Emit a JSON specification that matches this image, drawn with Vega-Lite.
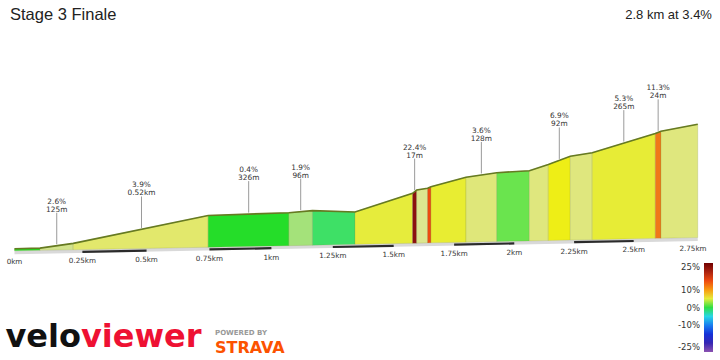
{
  "$schema": "https://vega.github.io/schema/vega-lite/v6.json",
  "width": 720,
  "height": 360,
  "autosize": {"type": "none"},
  "padding": 0,
  "background": "white",
  "config": {"view": {"stroke": null}, "axis": {"disable": true}},
  "datasets": {
    "profile": [
      {"seg": 1, "d": 0, "ele": 1.67, "floor": 0, "grade": 0.5},
      {"seg": 1, "d": 0.09, "ele": 2.25, "floor": 0.36, "grade": 0.5},
      {"seg": 2, "d": 0.09, "ele": 2.25, "floor": 0.36, "grade": 2.6},
      {"seg": 2, "d": 0.215, "ele": 6.17, "floor": 0.86, "grade": 2.6},
      {"seg": 3, "d": 0.215, "ele": 6.17, "floor": 0.86, "grade": 3.9},
      {"seg": 3, "d": 0.745, "ele": 29.42, "floor": 2.98, "grade": 3.9},
      {"seg": 4, "d": 0.745, "ele": 29.42, "floor": 2.98, "grade": 0.4},
      {"seg": 4, "d": 1.071, "ele": 31.75, "floor": 4.28, "grade": 0.4},
      {"seg": 5, "d": 1.071, "ele": 31.75, "floor": 4.28, "grade": 1.9},
      {"seg": 5, "d": 1.167, "ele": 33.5, "floor": 4.67, "grade": 1.9},
      {"seg": 6, "d": 1.167, "ele": 33.5, "floor": 4.67, "grade": -0.5},
      {"seg": 6, "d": 1.341, "ele": 32.33, "floor": 5.36, "grade": -0.5},
      {"seg": 7, "d": 1.341, "ele": 32.33, "floor": 5.36, "grade": 5.0},
      {"seg": 7, "d": 1.578, "ele": 47.92, "floor": 6.31, "grade": 5.0},
      {"seg": 8, "d": 1.578, "ele": 47.92, "floor": 6.31, "grade": 22.4},
      {"seg": 8, "d": 1.595, "ele": 50.67, "floor": 6.38, "grade": 22.4},
      {"seg": 9, "d": 1.595, "ele": 50.67, "floor": 6.38, "grade": 3.0},
      {"seg": 9, "d": 1.64, "ele": 52.08, "floor": 6.56, "grade": 3.0},
      {"seg": 10, "d": 1.64, "ele": 52.08, "floor": 6.56, "grade": 15},
      {"seg": 10, "d": 1.654, "ele": 53.42, "floor": 6.62, "grade": 15},
      {"seg": 11, "d": 1.654, "ele": 53.42, "floor": 6.62, "grade": 5.5},
      {"seg": 11, "d": 1.799, "ele": 61.25, "floor": 7.2, "grade": 5.5},
      {"seg": 12, "d": 1.799, "ele": 61.25, "floor": 7.2, "grade": 3.6},
      {"seg": 12, "d": 1.927, "ele": 65.08, "floor": 7.71, "grade": 3.6},
      {"seg": 13, "d": 1.927, "ele": 65.08, "floor": 7.71, "grade": 1.2},
      {"seg": 13, "d": 2.063, "ele": 66.75, "floor": 8.25, "grade": 1.2},
      {"seg": 14, "d": 2.063, "ele": 66.75, "floor": 8.25, "grade": 3.5},
      {"seg": 14, "d": 2.142, "ele": 71.9, "floor": 8.57, "grade": 3.5},
      {"seg": 15, "d": 2.142, "ele": 71.9, "floor": 8.57, "grade": 6.9},
      {"seg": 15, "d": 2.234, "ele": 78.75, "floor": 8.94, "grade": 6.9},
      {"seg": 16, "d": 2.234, "ele": 78.75, "floor": 8.94, "grade": 3.5},
      {"seg": 16, "d": 2.326, "ele": 81.75, "floor": 9.3, "grade": 3.5},
      {"seg": 17, "d": 2.326, "ele": 81.75, "floor": 9.3, "grade": 5.3},
      {"seg": 17, "d": 2.591, "ele": 97.75, "floor": 10.36, "grade": 5.3},
      {"seg": 18, "d": 2.591, "ele": 97.75, "floor": 10.36, "grade": 11.3},
      {"seg": 18, "d": 2.615, "ele": 99.67, "floor": 10.46, "grade": 11.3},
      {"seg": 19, "d": 2.615, "ele": 99.67, "floor": 10.46, "grade": 3.5},
      {"seg": 19, "d": 2.77, "ele": 105.42, "floor": 11.08, "grade": 3.5}
    ],
    "floorline": [
      {"d": 0, "floor": 0},
      {"d": 2.77, "floor": 11.08}
    ],
    "ticks": [
      {"d": 0, "floor": 0, "label": "0km"},
      {"d": 0.25, "floor": 1, "label": "0.25km"},
      {"d": 0.5, "floor": 2, "label": "0.5km"},
      {"d": 0.75, "floor": 3, "label": "0.75km"},
      {"d": 1, "floor": 4, "label": "1km"},
      {"d": 1.25, "floor": 5, "label": "1.25km"},
      {"d": 1.5, "floor": 6, "label": "1.5km"},
      {"d": 1.75, "floor": 7, "label": "1.75km"},
      {"d": 2, "floor": 8, "label": "2km"},
      {"d": 2.25, "floor": 9, "label": "2.25km"},
      {"d": 2.5, "floor": 10, "label": "2.5km"},
      {"d": 2.75, "floor": 11, "label": "2.75km"}
    ],
    "ruler": [
      {"d0": 0.25, "d1": 0.5, "f0": 1, "f1": 2},
      {"d0": 0.75, "d1": 1.0, "f0": 3, "f1": 4},
      {"d0": 1.25, "d1": 1.5, "f0": 5, "f1": 6},
      {"d0": 1.75, "d1": 2.0, "f0": 7, "f1": 8},
      {"d0": 2.25, "d1": 2.5, "f0": 9, "f1": 10}
    ],
    "ann": [
      {"d": 0.1525, "ele": 4.21, "g": "2.6%", "len": "125m"},
      {"d": 0.48, "ele": 17.8, "g": "3.9%", "len": "0.52km"},
      {"d": 0.908, "ele": 30.58, "g": "0.4%", "len": "326m"},
      {"d": 1.119, "ele": 32.63, "g": "1.9%", "len": "96m"},
      {"d": 1.5865, "ele": 49.3, "g": "22.4%", "len": "17m"},
      {"d": 1.863, "ele": 63.17, "g": "3.6%", "len": "128m"},
      {"d": 2.188, "ele": 75.3, "g": "6.9%", "len": "92m"},
      {"d": 2.4585, "ele": 89.75, "g": "5.3%", "len": "265m"},
      {"d": 2.603, "ele": 98.7, "g": "11.3%", "len": "24m"}
    ]
  },
  "layer": [
    {
      "data": {"name": "floorline"},
      "mark": {"type": "line", "color": "#d9d9d9", "strokeWidth": 3.5, "yOffset": 1.7},
      "encoding": {
        "x": {"field": "d", "type": "quantitative", "axis": null, "scale": {"type": "pow", "exponent": 0.96, "domain": [0, 2.75], "range": [14.5, 693], "nice": false, "zero": false}},
        "y": {"field": "floor", "type": "quantitative", "axis": null, "scale": {"domain": [-91, 209], "nice": false, "zero": false}}
      }
    },
    {
      "data": {"name": "ruler"},
      "mark": {"type": "rule", "color": "#2b2b2b", "strokeWidth": 2.2, "yOffset": 2.2, "y2Offset": 2.2},
      "encoding": {
        "x": {"field": "d0", "type": "quantitative"},
        "x2": {"field": "d1"},
        "y": {"field": "f0", "type": "quantitative"},
        "y2": {"field": "f1"}
      }
    },
    {
      "data": {"name": "profile"},
      "mark": {"type": "area", "stroke": "#7d8a3a", "strokeWidth": 0.6, "strokeOpacity": 0.35},
      "encoding": {
        "x": {"field": "d", "type": "quantitative"},
        "y": {"field": "ele", "type": "quantitative"},
        "y2": {"field": "floor"},
        "detail": {"field": "seg", "type": "nominal"},
        "color": {
          "field": "grade",
          "type": "quantitative",
          "scale": {
            "type": "linear",
            "domain": [-25, -18, -13, -9, -5, -0.5, 0.5, 1.2, 1.9, 2.6, 3.0, 3.6, 3.9, 5.0, 6.9, 10, 11.3, 15, 22.4, 25],
            "range": ["#8c52b0", "#1414b4", "#1444f0", "#1a90f0", "#28d6e6", "#3ee066", "#22dd22", "#6ae44e", "#a4e27a", "#d2e38c", "#dce690", "#dfe77a", "#e2e86c", "#e6ec3c", "#eeee16", "#f89a10", "#f07818", "#ee4a10", "#8b1010", "#700000"],
            "interpolate": "rgb",
            "nice": false,
            "zero": false
          },
          "legend": {
            "type": "gradient",
            "orient": "none",
            "legendX": 704,
            "legendY": 263,
            "direction": "vertical",
            "title": null,
            "gradientLength": 89,
            "gradientThickness": 9,
            "gradientStrokeWidth": 0,
            "values": [-25, -10, 0, 10, 25],
            "labelExpr": "datum.value + '%'",
            "labelFont": "DejaVu Sans",
            "labelFontSize": 8.5,
            "labelColor": "#333333",
            "labelOverlap": false,
            "padding": 0,
            "encoding": {"labels": {"align": {"value": "right"}, "x": {"value": -4}}}
          }
        }
      }
    },
    {
      "data": {"name": "profile"},
      "mark": {"type": "line", "color": "#667a22", "strokeWidth": 1.6},
      "encoding": {
        "x": {"field": "d", "type": "quantitative"},
        "y": {"field": "ele", "type": "quantitative"}
      }
    },
    {
      "data": {"name": "ann"},
      "mark": {"type": "rule", "color": "#9a9a9a", "strokeWidth": 1, "yOffset": -1.5, "y2Offset": -33},
      "encoding": {
        "x": {"field": "d", "type": "quantitative"},
        "y": {"field": "ele", "type": "quantitative"},
        "y2": {"field": "ele"}
      }
    },
    {
      "data": {"name": "ann"},
      "mark": {"type": "text", "font": "DejaVu Sans", "fontSize": 7.4, "color": "#333333", "baseline": "middle", "align": "center", "dy": -44},
      "encoding": {
        "x": {"field": "d", "type": "quantitative"},
        "y": {"field": "ele", "type": "quantitative"},
        "text": {"field": "g", "type": "nominal"}
      }
    },
    {
      "data": {"name": "ann"},
      "mark": {"type": "text", "font": "DejaVu Sans", "fontSize": 7.4, "color": "#333333", "baseline": "middle", "align": "center", "dy": -36},
      "encoding": {
        "x": {"field": "d", "type": "quantitative"},
        "y": {"field": "ele", "type": "quantitative"},
        "text": {"field": "len", "type": "nominal"}
      }
    },
    {
      "data": {"name": "ticks"},
      "mark": {"type": "text", "font": "DejaVu Sans", "fontSize": 7.2, "color": "#333333", "baseline": "middle", "align": "center", "dy": 11.5},
      "encoding": {
        "x": {"field": "d", "type": "quantitative"},
        "y": {"field": "floor", "type": "quantitative"},
        "text": {"field": "label", "type": "nominal"}
      }
    },
    {
      "data": {"values": [{}]},
      "mark": {"type": "text", "text": "Stage 3 Finale", "font": "Liberation Sans", "fontSize": 16.5, "color": "#222222", "align": "left", "baseline": "middle"},
      "encoding": {
        "x": {"datum": -0.0148, "type": "quantitative"},
        "y": {"datum": 196.5, "type": "quantitative"}
      }
    },
    {
      "data": {"values": [{}]},
      "mark": {"type": "text", "text": "2.8 km at 3.4%", "font": "Liberation Sans", "fontSize": 13, "color": "#222222", "align": "right", "baseline": "middle"},
      "encoding": {
        "x": {"datum": 2.83, "type": "quantitative"},
        "y": {"datum": 196.5, "type": "quantitative"}
      }
    },
    {
      "data": {"values": [{}]},
      "mark": {"type": "text", "text": "velo", "font": "DejaVu Sans", "fontSize": 32, "fontWeight": "bold", "color": "#111111", "align": "right", "baseline": "alphabetic"},
      "encoding": {
        "x": {"datum": 0.2447, "type": "quantitative"},
        "y": {"datum": -80.2, "type": "quantitative"}
      }
    },
    {
      "data": {"values": [{}]},
      "mark": {"type": "text", "text": "viewer", "font": "DejaVu Sans", "fontSize": 32, "fontWeight": "bold", "color": "#ee1133", "align": "left", "baseline": "alphabetic"},
      "encoding": {
        "x": {"datum": 0.2447, "type": "quantitative"},
        "y": {"datum": -80.2, "type": "quantitative"}
      }
    },
    {
      "data": {"values": [{}]},
      "mark": {"type": "text", "text": "POWERED BY", "font": "DejaVu Sans", "fontSize": 7, "fontWeight": "bold", "color": "#999999", "align": "left", "baseline": "middle"},
      "encoding": {
        "x": {"datum": 0.7724, "type": "quantitative"},
        "y": {"datum": -68.9, "type": "quantitative"}
      }
    },
    {
      "data": {"values": [{}]},
      "mark": {"type": "text", "text": "STRAVA", "font": "DejaVu Sans", "fontSize": 16, "fontWeight": "bold", "color": "#fc5200", "align": "left", "baseline": "middle"},
      "encoding": {
        "x": {"datum": 0.7724, "type": "quantitative"},
        "y": {"datum": -80.6, "type": "quantitative"}
      }
    }
  ]
}
